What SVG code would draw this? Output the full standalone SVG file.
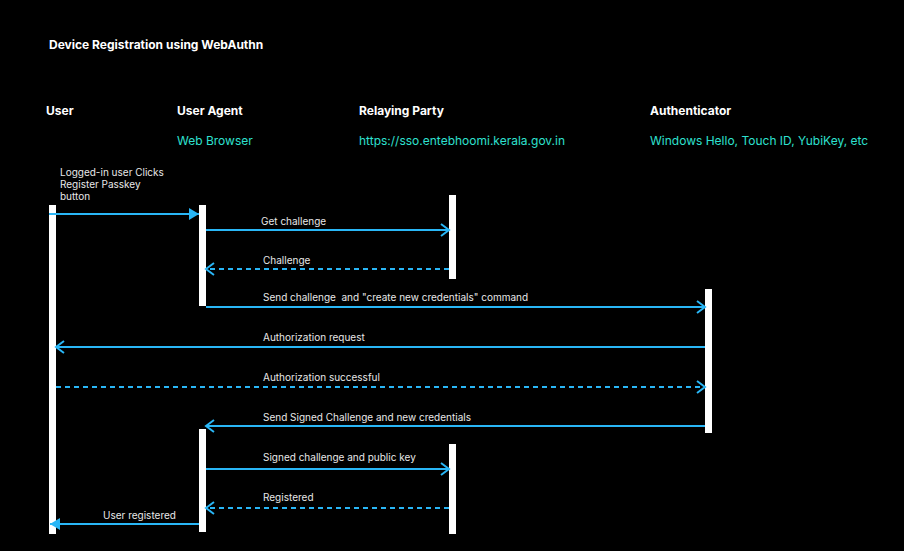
<svg xmlns="http://www.w3.org/2000/svg" width="904" height="551" viewBox="0 0 904 551">
<style>
text{font-family:Inter,"Liberation Sans",sans-serif;fill:#fff}
.h{font-size:12px;font-weight:bold}
.s{font-size:12px;fill:#2ee0d0}
.l{font-size:10px;fill:#e8e8e8}
.bar{fill:#fff}
.c{stroke:#29b6f6;stroke-width:2;fill:none}
.d{stroke-dasharray:5 4}
</style>
<defs>
<marker id="open" markerWidth="12" markerHeight="14" refX="10" refY="7" orient="auto" markerUnits="userSpaceOnUse"><path d="M2,1 L10,7 L2,13" fill="none" stroke="#29b6f6" stroke-width="2"/></marker>
<marker id="fill" markerWidth="12" markerHeight="14" refX="10" refY="6" orient="auto" markerUnits="userSpaceOnUse"><path d="M0,0 L10,6 L0,12 Z" fill="#29b6f6"/></marker>
</defs>
<rect width="904" height="551" fill="#000"/>
<text x="49" y="49" class="h">Device Registration using WebAuthn</text>
<g id="user"><text x="46" y="115" class="h">User</text><rect class="bar" x="49" y="205" width="7" height="329"/></g>
<g id="useragent"><text x="177" y="115" class="h">User Agent</text><text x="177" y="145" class="s">Web Browser</text><rect class="bar" x="199" y="205" width="7" height="101"/><rect class="bar" x="199" y="429" width="7" height="103"/></g>
<g id="rp"><text x="359" y="115" class="h">Relaying Party</text><text x="359" y="145" class="s">https://sso.entebhoomi.kerala.gov.in</text><rect class="bar" x="449" y="195" width="7" height="84"/><rect class="bar" x="449" y="444" width="7" height="90"/></g>
<g id="auth"><text x="650" y="115" class="h">Authenticator</text><text x="650" y="145" class="s">Windows Hello, Touch ID, YubiKey, etc</text><rect class="bar" x="705" y="289" width="7" height="144"/></g>
<g id="connectors">
<line class="c" x1="49" y1="214" x2="199" y2="214" marker-end="url(#fill)"/>
<line class="c" x1="206" y1="230" x2="449" y2="230" marker-end="url(#open)"/>
<line class="c d" x1="449" y1="269" x2="206" y2="269" marker-end="url(#open)"/>
<line class="c" x1="206" y1="307" x2="705" y2="307" marker-end="url(#open)"/>
<line class="c" x1="705" y1="347" x2="56" y2="347" marker-end="url(#open)"/>
<line class="c d" x1="56" y1="387" x2="705" y2="387" marker-end="url(#open)"/>
<line class="c" x1="705" y1="426" x2="206" y2="426" marker-end="url(#open)"/>
<line class="c" x1="206" y1="469" x2="449" y2="469" marker-end="url(#open)"/>
<line class="c d" x1="449" y1="508" x2="206" y2="508" marker-end="url(#open)"/>
<line class="c" x1="199" y1="524" x2="50" y2="524" marker-end="url(#fill)"/>
<text x="60" y="176" class="l">Logged-in user Clicks</text>
<text x="60" y="188" class="l">Register Passkey</text>
<text x="60" y="200" class="l">button</text>
<text x="261" y="225" class="l">Get challenge</text>
<text x="263" y="264" class="l">Challenge</text>
<text x="263" y="301" class="l" xml:space="preserve">Send challenge  and "create new credentials" command</text>
<text x="263" y="341" class="l">Authorization request</text>
<text x="263" y="381" class="l">Authorization successful</text>
<text x="263" y="421" class="l">Send Signed Challenge and new credentials</text>
<text x="263" y="461" class="l">Signed challenge and public key</text>
<text x="263" y="501" class="l">Registered</text>
<text x="103" y="519" class="l">User registered</text>
</g>
</svg>
